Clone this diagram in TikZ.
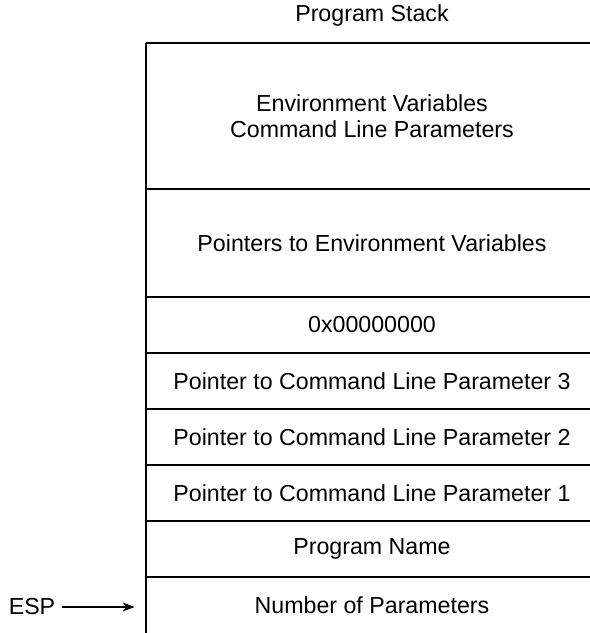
\documentclass[tikz,border=0pt]{standalone}
\usepackage{fontspec}
\setmainfont{Liberation Sans}
\usetikzlibrary{arrows.meta}

\begin{document}
\begin{tikzpicture}[x=0.5pt, y=-0.5pt, font=\fontsize{11.6}{12.8}\selectfont,
  cell/.style={rectangle, inner sep=0pt, minimum width=226pt, align=center},
  border/.style={line width=0.9pt}]
\useasboundingbox (0,0) rectangle (590,633);
\node (title) at (372,15) {Program Stack};
\node[cell, minimum height=73pt] (env) at (372,116) {Environment Variables\\Command Line Parameters};
\node[cell, minimum height=54pt] (ptrenv) at (372,243) {Pointers to Environment Variables};
\node[cell, minimum height=28pt] (null) at (372,325) {0x00000000};
\node[cell, minimum height=28pt] (p3) at (372,381) {Pointer to Command Line Parameter 3};
\node[cell, minimum height=28pt] (p2) at (372,437) {Pointer to Command Line Parameter 2};
\node[cell, minimum height=28pt] (p1) at (372,493) {Pointer to Command Line Parameter 1};
\node[cell, minimum height=28pt] (name) at (372,549) {Program Name};
\node[cell, minimum height=28pt] (argc) at (372,605) {Number of Parameters};
\draw[border] (env.north west) -- (env.north east);
\draw[border] (ptrenv.north west) -- (ptrenv.north east);
\draw[border] (null.north west) -- (null.north east);
\draw[border] (p3.north west) -- (p3.north east);
\draw[border] (p2.north west) -- (p2.north east);
\draw[border] (p1.north west) -- (p1.north east);
\draw[border] (name.north west) -- (name.north east);
\draw[border] (argc.north west) -- (argc.north east);
\draw[border] (env.north west) -- (argc.south west);
\node (esp) at (32,607) {ESP};
\draw[-{Stealth[length=6pt, width=4.5pt]}, line width=0.6pt, shorten >=5.5pt] (esp) -- (esp -| argc.west);
\end{tikzpicture}
\end{document}
